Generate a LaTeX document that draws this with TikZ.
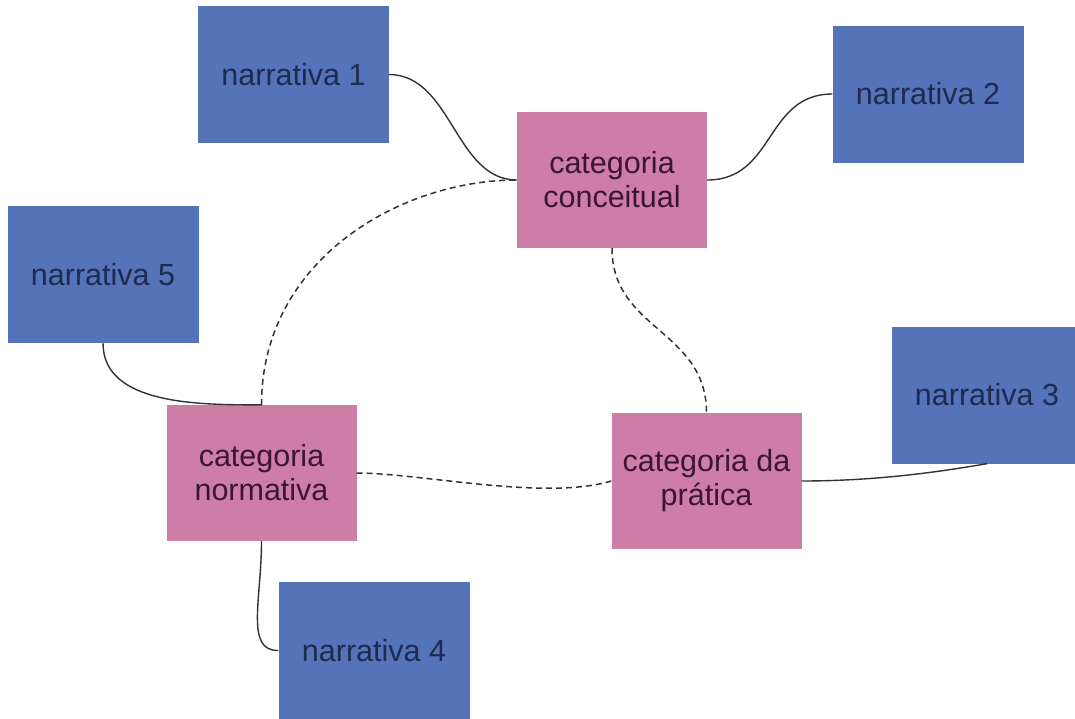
\documentclass[tikz,border=0pt]{standalone}
\usepackage{fontspec}
\setmainfont{Liberation Sans}
\definecolor{narrblue}{RGB}{85,115,185}
\definecolor{catpink}{RGB}{205,125,166}
\definecolor{narrtext}{RGB}{30,42,78}
\definecolor{cattext}{RGB}{60,22,48}
\definecolor{linkgray}{RGB}{50,50,50}
\tikzset{
  narrbox/.style={rectangle, fill=narrblue, minimum width=191pt, minimum height=137pt,
    inner sep=0pt, text=narrtext, font=\fontsize{30.5}{34}\selectfont, align=center},
  catbox/.style={rectangle, fill=catpink, minimum width=190pt, minimum height=136pt,
    inner sep=0pt, text=cattext, font=\fontsize{30.5}{34}\selectfont, align=center},
  solidlink/.style={draw=linkgray, line width=1.4pt},
  dashlink/.style={draw=linkgray, line width=1.5pt, dash pattern=on 6pt off 4pt}
}
\begin{document}
\begin{tikzpicture}[x=1pt,y=-1pt]
  \useasboundingbox (0,0) rectangle (1075,718);
  \clip (0,0) rectangle (1075,718);

  % narrative boxes
  \node[narrbox] (n1) at (293.5,74.5) {narrativa 1};
  \node[narrbox] (n2) at (928,94) {narrativa 2};
  \node[narrbox] (n3) at (987,395) {narrativa 3};
  \node[narrbox] (n4) at (374,650.5) {narrativa 4};
  \node[narrbox] (n5) at (103,274.5) {narrativa 5};

  % category boxes
  \node[catbox] (cc) at (612,180) {categoria\\conceitual};
  \node[catbox] (cn) at (261.5,473) {categoria\\normativa};
  \node[catbox] (cp) at (706.5,481) {categoria da\\prática};

  % links between narratives and categories
  \draw[solidlink] (n1.east) .. controls (452,75) and (455,180) .. (cc.west);
  \draw[solidlink] (cc.east) .. controls (775,180) and (765,94) .. (n2.west);
  \draw[solidlink] (n5.south) .. controls (103,405) and (200,405) .. (cn.north);
  \draw[solidlink] (cn.south) .. controls (261.5,600) and (245,651) .. (n4.west);
  \draw[solidlink] (cp.east) .. controls (890,481) and (960,468) .. (n3.south);

  % links between categories
  \draw[dashlink] (cn.north) .. controls (261.5,260) and (400,180) .. (cc.west);
  \draw[dashlink] (cc.south) .. controls (612,330) and (706.5,330) .. (cp.north);
  \draw[dashlink] (cn.east) .. controls (420,473) and (545,501) .. (cp.west);
\end{tikzpicture}
\end{document}
